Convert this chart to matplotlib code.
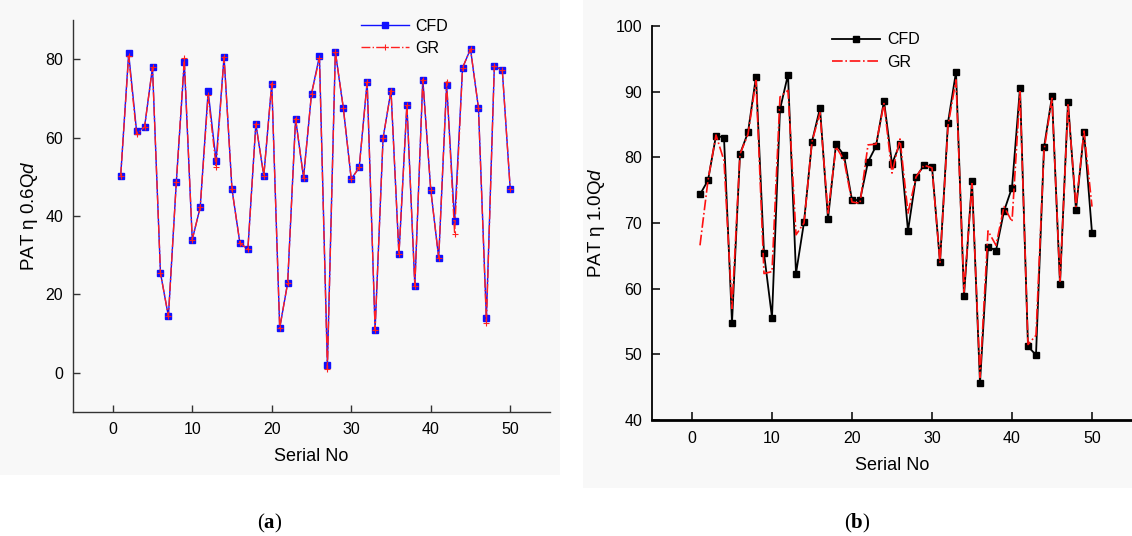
import matplotlib
matplotlib.use("Agg")
import matplotlib.pyplot as plt
from matplotlib.patches import Rectangle

plt.rcParams['font.family'] = ['Liberation Sans', 'DejaVu Sans']
plt.rcParams['mathtext.fontset'] = 'custom'
plt.rcParams['mathtext.rm'] = 'Liberation Sans'
plt.rcParams['mathtext.it'] = 'Liberation Sans:italic'
plt.rcParams['mathtext.bf'] = 'Liberation Serif:bold'

serial = list(range(1, 51))

cfd_a = [50.3, 81.5, 61.6, 62.7, 77.9, 25.5, 14.4, 48.8, 79.2, 34.0,
         42.2, 71.8, 54.1, 80.6, 46.8, 33.0, 31.6, 63.5, 50.3, 73.8,
         11.4, 22.9, 64.8, 49.8, 71.2, 80.8, 2.0, 81.9, 67.6, 49.4,
         52.4, 74.2, 11.0, 59.8, 72.0, 30.2, 68.4, 22.2, 74.8, 46.7,
         29.3, 73.5, 38.6, 77.8, 82.6, 67.6, 13.9, 78.3, 77.2, 46.8]
gr_a = [50.3, 80.8, 60.8, 62.7, 77.9, 25.5, 14.4, 48.8, 80.2, 34.0,
        42.2, 70.8, 52.5, 80.6, 46.8, 33.0, 31.6, 63.5, 50.3, 73.8,
        11.4, 22.9, 64.8, 49.8, 71.2, 80.2, 1.0, 81.9, 67.6, 49.4,
        52.4, 74.2, 11.0, 59.8, 72.0, 30.2, 68.4, 22.2, 74.8, 46.7,
        29.3, 74.2, 35.5, 77.8, 82.6, 67.6, 12.8, 78.3, 77.2, 46.8]

cfd_b = [74.35, 76.5, 83.3, 83.0, 54.8, 80.5, 83.8, 92.3, 65.4, 55.6,
         87.3, 92.6, 62.3, 70.1, 82.4, 87.5, 70.6, 82.0, 80.3, 73.5,
         73.5, 79.3, 81.7, 88.6, 79.0, 82.1, 68.8, 77.0, 78.8, 78.6,
         64.0, 85.3, 93.0, 58.9, 76.4, 45.6, 66.4, 65.8, 71.8, 75.4,
         90.6, 51.2, 49.9, 81.5, 89.3, 60.7, 88.4, 72.0, 83.9, 68.5]
gr_b = [66.6, 76.5, 83.4, 79.5, 57.0, 80.5, 83.5, 91.7, 62.3, 62.6,
        89.2, 90.2, 68.2, 70.0, 82.4, 86.8, 71.5, 81.6, 79.6, 73.2,
        73.0, 81.9, 82.0, 88.2, 77.6, 82.8, 71.5, 77.0, 78.8, 78.4,
        64.0, 84.8, 91.8, 59.5, 76.0, 46.5, 68.8, 66.6, 72.5, 70.2,
        90.0, 51.5, 52.9, 81.0, 89.0, 61.0, 88.0, 72.5, 84.0, 72.5]

xticks = [0, 10, 20, 30, 40, 50]
yticks_a = [0, 20, 40, 60, 80]
yticks_b = [40, 50, 60, 70, 80, 90, 100]

W, H = 1132, 536
fig = plt.figure(figsize=(W / 100, H / 100), dpi=100)
fig.patch.set_facecolor('white')

# light panel backgrounds
fig.add_artist(Rectangle((0, 1 - 475 / H), 560 / W, 475 / H, transform=fig.transFigure,
                         facecolor='#f8f8f8', edgecolor='none', zorder=-10))
fig.add_artist(Rectangle((583 / W, 1 - 488 / H), (W - 583) / W, 488 / H, transform=fig.transFigure,
                         facecolor='#f8f8f8', edgecolor='none', zorder=-10))

def px_axes(l, t, r, b):
    return fig.add_axes([l / W, 1 - b / H, (r - l) / W, (b - t) / H])

# ---------------- panel (a) ----------------
ax1 = px_axes(73, 20, 550, 412)
ax1.set_facecolor('none')
ax1.plot(serial, cfd_a, color='#1010ff', lw=1.0, marker='s', ms=4.2, zorder=2, label='CFD')
ax1.plot(serial, gr_a, color='#ff2020', lw=1.0, ls='-.', marker='+', ms=4, mew=0.8,
         zorder=3, label='GR')
ax1.set_xlim(-5, 55)
ax1.set_ylim(-10, 90)
ax1.set_xticks(xticks)
ax1.set_yticks(yticks_a)
for s in ['top', 'right']:
    ax1.spines[s].set_visible(False)
for s in ['left', 'bottom']:
    ax1.spines[s].set_color('#333333')
    ax1.spines[s].set_linewidth(1.0)
ax1.tick_params(direction='in', length=5, width=1, colors='#333333', labelcolor='black',
                labelsize=11.5, pad=7)
ax1.set_xlabel('Serial No', fontsize=13, labelpad=8)
ax1.set_ylabel(r'PAT η 0.6$\mathrm{Q}d$', fontsize=13.5, labelpad=4)
ax1.legend(loc='upper left', bbox_to_anchor=((355 - 73) / (550 - 73), 1.02), frameon=False,
           fontsize=11.5, handlelength=3.0, handletextpad=0.4, labelspacing=0.45,
           borderaxespad=0)

# ---------------- panel (b) ----------------
ax2 = px_axes(652, 26, 1132, 420)
ax2.set_facecolor('none')
ax2.plot(serial, cfd_b, color='black', lw=1.3, marker='s', ms=4, zorder=2, label='CFD')
ax2.plot(serial, gr_b, color='#ff1010', lw=1.2, ls='-.', zorder=3, label='GR')
ax2.set_xlim(-5, 55)
ax2.set_ylim(40, 100)
ax2.set_xticks(xticks)
ax2.set_yticks(yticks_b)
for s in ['top', 'right']:
    ax2.spines[s].set_visible(False)
ax2.spines['left'].set_linewidth(1.3)
ax2.spines['bottom'].set_linewidth(2.0)
ax2.tick_params(direction='in', length=6, width=1.1, labelsize=11.5, pad=7)
ax2.tick_params(axis='x', pad=8)
ax2.set_xlabel('Serial No', fontsize=13, labelpad=8)
ax2.set_ylabel(r'PAT η 1.0$\mathrm{Q}d$', fontsize=13.5, labelpad=6)
ax2.legend(loc='upper left', bbox_to_anchor=((826 - 652) / (1132 - 652), 1.0), frameon=False,
           fontsize=11.5, handlelength=3.0, handletextpad=0.45, labelspacing=0.45,
           borderaxespad=0)

# captions
fig.text(270 / W, 1 - 523 / H, r'($\mathbf{a}$)', ha='center', va='center',
         fontsize=15, family='Liberation Serif')
fig.text(857 / W, 1 - 523 / H, r'($\mathbf{b}$)', ha='center', va='center',
         fontsize=15, family='Liberation Serif')

fig.savefig('out.png', dpi=100, facecolor='white')
